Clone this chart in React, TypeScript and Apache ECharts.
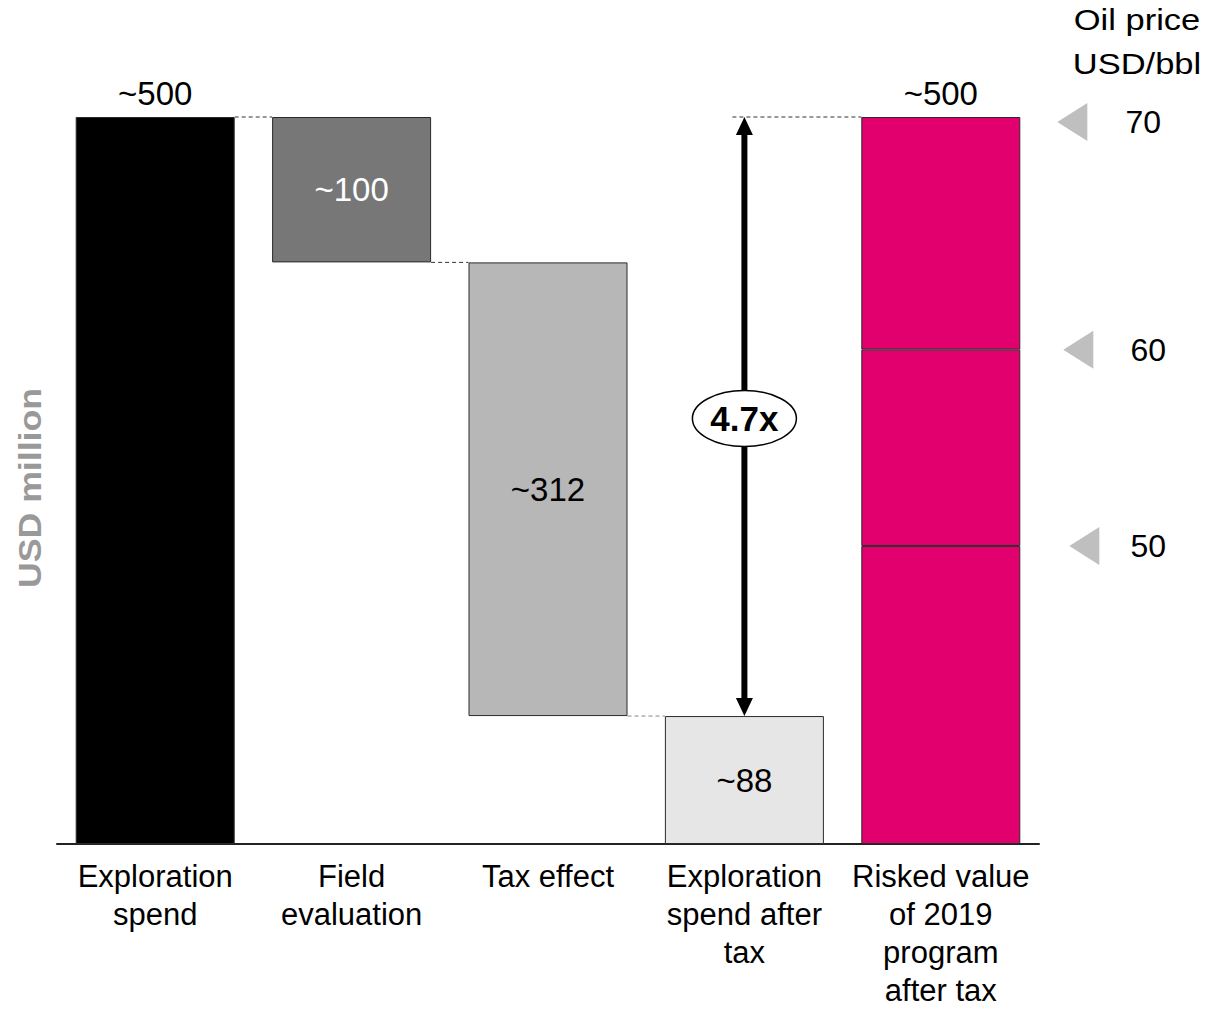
import React, { useEffect, useRef } from "react";
import * as echarts from "echarts";

const categories = [
  "Exploration\nspend",
  "Field\nevaluation",
  "Tax effect",
  "Exploration\nspend after\ntax",
  "Risked value\nof 2019\nprogram\nafter tax",
];
const baseValues = [0, 400, 88, 0, 0];
const stepValues = [500, 100, 312, 88, 205];
const stepLabels = ["~500", "~100", "~312", "~88", ""];
const riskedMid = [null, null, null, null, 135];
const riskedTop = [null, null, null, null, 160];
const riskedTotalLabel = "~500";
const oilPriceLabels = ["70", "60", "50"];
const oilPriceLevels = [500, 340, 205];
const multipleLabel = "4.7x";
const arrowRange = [3, 88, 500];
// [fromCategory, value, toCategory, startsAtArrow]
const connectors = [
  [0, 500, 1, 0],
  [1, 400, 2, 0],
  [2, 88, 3, 0],
  [3, 500, 4, 1],
];
const yAxisTitle = "USD million";
const oilTitle = "Oil price\nUSD/bbl";

const stepColors = ["#000000", "#777777", "#b7b7b7", "#e6e6e6", "#e2006f"];
const stepLabelColors = ["#000000", "#ffffff", "#000000", "#000000", "#000000"];
const FONT = "'Liberation Sans', Arial, sans-serif";
const BAR_W = 159;
const MARKER_DX = [37, 43, 49];
const LABEL_DX = [123, 128, 128];
const MARKER_DY = [5, 0, 0];

export default function App() {
  const ref = useRef<HTMLDivElement>(null);
  useEffect(() => {
    if (!ref.current) return;
    const chart = echarts.init(ref.current, null, { renderer: "svg" });
    const barStyle = (color: string) => ({
      color,
      borderColor: "#2a2a2a",
      borderWidth: 1,
    });
    chart.setOption({
      animation: false,
      textStyle: { fontFamily: FONT },
      grid: { left: 57, width: 982, top: 117, height: 731 },
      xAxis: {
        type: "category",
        data: categories,
        axisLine: { show: true, lineStyle: { color: "#222", width: 2 } },
        axisTick: { show: false },
        axisLabel: {
          interval: 0,
          color: "#000",
          fontSize: 31,
          lineHeight: 38,
          margin: 13,
          fontFamily: FONT,
        },
      },
      yAxis: {
        type: "value",
        min: 0,
        max: 500,
        axisLine: { show: false },
        axisTick: { show: false },
        axisLabel: { show: false },
        splitLine: { show: false },
      },
      graphic: [
        {
          type: "text",
          x: 30,
          y: 488,
          rotation: Math.PI / 2,
          scaleX: 1.15,
          style: {
            text: yAxisTitle,
            fill: "#999999",
            font: `bold 31px ${FONT}`,
            textAlign: "center",
            textVerticalAlign: "middle",
          },
        },
        {
          type: "text",
          x: 1137,
          y: 42,
          scaleX: 1.15,
          style: {
            text: oilTitle,
            fill: "#000",
            font: `30px ${FONT}`,
            lineHeight: 44,
            textAlign: "center",
            textVerticalAlign: "middle",
          },
        },
      ],
      series: [
        {
          type: "bar",
          stack: "w",
          barWidth: BAR_W,
          silent: true,
          itemStyle: { color: "transparent", borderWidth: 0 },
          data: baseValues,
        },
        {
          type: "bar",
          stack: "w",
          barWidth: BAR_W,
          data: stepValues.map((v, i) => ({
            value: v,
            itemStyle: barStyle(stepColors[i]),
            label: {
              show: stepLabels[i] !== "",
              position: i === 0 ? "top" : "inside",
              distance: 7,
              formatter: stepLabels[i],
              color: stepLabelColors[i],
              fontSize: 33,
              fontFamily: FONT,
            },
          })),
        },
        {
          type: "bar",
          stack: "w",
          barWidth: BAR_W,
          itemStyle: barStyle(stepColors[4]),
          data: riskedMid,
        },
        {
          type: "bar",
          stack: "w",
          barWidth: BAR_W,
          itemStyle: barStyle(stepColors[4]),
          label: {
            show: true,
            position: "top",
            distance: 7,
            formatter: riskedTotalLabel,
            color: "#000",
            fontSize: 33,
            fontFamily: FONT,
          },
          data: riskedTop,
        },
        {
          type: "custom",
          clip: false,
          silent: true,
          data: connectors,
          renderItem: (params: any, api: any) => {
            const from = api.value(0);
            const val = api.value(1);
            const to = api.value(2);
            const atArrow = api.value(3);
            const p1 = api.coord([from, val]);
            const p2 = api.coord([to, val]);
            const x1 = atArrow ? p1[0] - 12 : p1[0] + BAR_W / 2;
            const x2 = p2[0] - BAR_W / 2;
            return {
              type: "line",
              shape: { x1, y1: p1[1], x2, y2: p2[1] },
              style: {
                stroke: params.dataIndex === 2 ? "#888" : "#333",
                lineWidth: 1,
                lineDash: [4, 3],
              },
            };
          },
        },
        {
          type: "custom",
          clip: false,
          silent: true,
          data: [arrowRange],
          renderItem: (params: any, api: any) => {
            const cat = api.value(0);
            const lo = api.coord([cat, api.value(1)]);
            const hi = api.coord([cat, api.value(2)]);
            const x = lo[0];
            const yb = lo[1];
            const yt = hi[1];
            const head = 18;
            const hw = 8.5;
            const mid = (yt + yb) / 2 + 2;
            return {
              type: "group",
              children: [
                {
                  type: "line",
                  shape: { x1: x, y1: yt + head - 1, x2: x, y2: yb - head + 1 },
                  style: { stroke: "#000", lineWidth: 6 },
                },
                {
                  type: "polygon",
                  shape: { points: [[x, yt], [x - hw, yt + head], [x + hw, yt + head]] },
                  style: { fill: "#000" },
                },
                {
                  type: "polygon",
                  shape: { points: [[x, yb], [x - hw, yb - head], [x + hw, yb - head]] },
                  style: { fill: "#000" },
                },
                {
                  type: "ellipse",
                  shape: { cx: x, cy: mid, rx: 52, ry: 28 },
                  style: { fill: "#fff", stroke: "#000", lineWidth: 1.5 },
                },
                {
                  type: "text",
                  x,
                  y: mid,
                  style: {
                    text: multipleLabel,
                    font: `bold 35px ${FONT}`,
                    fill: "#000",
                    textAlign: "center",
                    textVerticalAlign: "middle",
                  },
                },
              ],
            };
          },
        },
        {
          type: "custom",
          clip: false,
          silent: true,
          data: oilPriceLevels.map((v, i) => [4, v, oilPriceLabels[i]]),
          renderItem: (params: any, api: any) => {
            const i = params.dataIndex;
            const p = api.coord([api.value(0), api.value(1)]);
            const right = p[0] + BAR_W / 2;
            const cy = p[1] + MARKER_DY[i];
            const tx = right + MARKER_DX[i];
            return {
              type: "group",
              children: [
                {
                  type: "polygon",
                  shape: { points: [[tx, cy], [tx + 30, cy - 19], [tx + 30, cy + 19]] },
                  style: { fill: "#bfbfbf" },
                },
                {
                  type: "text",
                  x: right + LABEL_DX[i],
                  y: cy,
                  style: {
                    text: oilPriceLabels[i],
                    font: `32px ${FONT}`,
                    fill: "#000",
                    textAlign: "center",
                    textVerticalAlign: "middle",
                  },
                },
              ],
            };
          },
        },
      ],
    });
    return () => chart.dispose();
  }, []);
  return (
    <div
      ref={ref}
      style={{ position: "fixed", left: 0, top: 0, width: 1210, height: 1009, background: "#fff" }}
    />
  );
}
